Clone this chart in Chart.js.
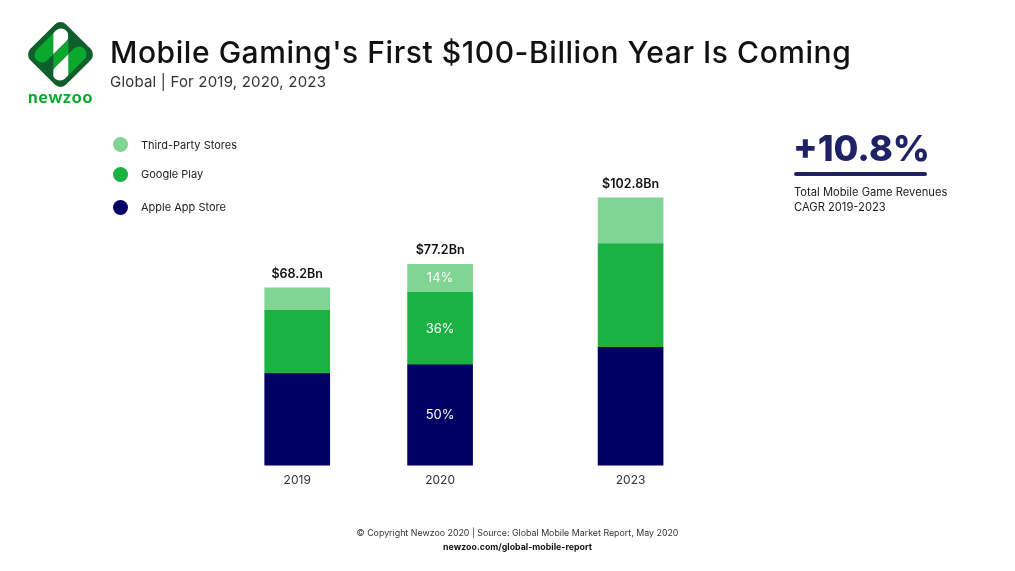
<!DOCTYPE html>
<html>
<head>
<meta charset="utf-8">
<title>Mobile Gaming's First $100-Billion Year Is Coming</title>
<script src="https://cdn.jsdelivr.net/npm/chart.js@4"></script>
<style>
  html, body { margin: 0; padding: 0; background: #fff; }
  #page { position: relative; width: 1015px; height: 571px; overflow: hidden; font-family: Inter, sans-serif; color: #222; }
  #page canvas { position: absolute; left: 0; top: 0; }
  .txt { position: absolute; white-space: nowrap; line-height: 1; }
  .dot { position: absolute; width: 15px; height: 15px; border-radius: 50%; }
</style>
</head>
<body>
<div id="page">
  <canvas id="myChart" width="1015" height="571"></canvas>

  <svg style="position:absolute;left:0;top:0" width="110" height="90" viewBox="0 0 110 90">
    <defs>
      <clipPath id="leftPart"><rect x="20" y="15" width="33.3" height="70"/></clipPath>
      <clipPath id="midPart"><rect x="53.3" y="15" width="15" height="70"/></clipPath>
      <clipPath id="rightPart"><rect x="68.3" y="15" width="30" height="70"/></clipPath>
    </defs>
    <rect x="35.2" y="29.2" width="50.6" height="50.6" rx="8" fill="#0f5f2d" transform="rotate(45 60.5 54.5)"/>
    <g stroke-width="15" stroke-linecap="round" fill="none">
      <line x1="42" y1="55" x2="61" y2="36" stroke="#0aa92e" clip-path="url(#leftPart)"/>
      <line x1="79" y1="54" x2="60" y2="73" stroke="#0aa92e" clip-path="url(#rightPart)"/>
      <polygon points="53.3,54.7 68.3,39.7 68.3,53.7 53.3,68.7" fill="#0aa92e" stroke="none"/>
      <line x1="42" y1="55" x2="61" y2="36" stroke="#fff" clip-path="url(#midPart)"/>
      <line x1="79" y1="54" x2="60" y2="73" stroke="#fff" clip-path="url(#midPart)"/>
    </g>
  </svg>
  <div class="txt" style="left:28px;top:86px;font:900 17px Lato,sans-serif;color:#0aa92e;letter-spacing:.9px">newzoo</div>

  <div class="txt" style="left:110px;top:37px;font-size:30px;font-weight:500;letter-spacing:.55px;color:#111;">Mobile Gaming's First $100-Billion Year Is Coming</div>
  <div class="txt" style="left:110px;top:74px;font-size:15px;letter-spacing:.2px;color:#333;">Global | For 2019, 2020, 2023</div>

  <div class="dot" style="left:113px;top:137px;background:#80d494"></div>
  <div class="txt" style="left:141px;top:140px;font-size:11px;">Third-Party Stores</div>
  <div class="dot" style="left:113px;top:167px;background:#1bb143"></div>
  <div class="txt" style="left:141px;top:169px;font-size:11px;">Google Play</div>
  <div class="dot" style="left:113px;top:200px;background:#000064"></div>
  <div class="txt" style="left:141px;top:202px;font-size:11px;">Apple App Store</div>

  <div class="txt" style="left:793px;top:130px;font-size:36px;font-weight:800;color:#1f2366;">+10.8%</div>
  <div style="position:absolute;left:794px;top:172px;width:133px;height:4px;border-radius:2px;background:#1f2366"></div>
  <div class="txt" style="left:794px;top:187px;font-size:11.2px;">Total Mobile Game Revenues</div>
  <div class="txt" style="left:794px;top:202px;font-size:11.2px;">CAGR 2019-2023</div>

  <div class="txt" style="left:0;width:1035px;text-align:center;top:529px;font-size:8.85px;color:#333;">© Copyright Newzoo 2020 | Source: Global Mobile Market Report, May 2020</div>
  <div class="txt" style="left:0;width:1035px;text-align:center;top:543px;font-size:8.8px;font-weight:700;color:#111;">newzoo.com/global-mobile-report</div>
</div>

<script>
  // blank categories keep the uneven gaps between the years
  var categories = ['2019', '', '', '2020', '', '', '', '2023'];

  // revenue in $Bn
  var appleStore = [35.2, null, null, 38.6, null, null, null, 45.3];
  var googlePlay = [24.3, null, null, 27.8, null, null, null, 39.8];
  var thirdParty = [8.7, null, null, 10.8, null, null, null, 17.7];

  var totalLabels = ['$68.2Bn', '', '', '$77.2Bn', '', '', '', '$102.8Bn'];
  var googleShare = ['', '', '', '36%', '', '', '', ''];
  var appleShare = ['', '', '', '50%', '', '', '', ''];
  var thirdShare = ['', '', '', '14%', '', '', '', ''];

  var shareLabels = [appleShare, googleShare, thirdShare];

  /**
   * totals above the stacks and the white shares inside them
   */
  var barLabels = {
    id: 'barLabels',
    afterDatasetsDraw: function (chart) {
      var ctx = chart.ctx;
      ctx.save();
      ctx.textAlign = 'center';
      ctx.textBaseline = 'middle';

      ctx.fillStyle = '#fff';
      ctx.font = '13px Inter, sans-serif';
      shareLabels.forEach(function (labels, d) {
        chart.getDatasetMeta(d).data.forEach(function (bar, i) {
          if (labels[i]) {
            ctx.fillText(labels[i], bar.x, (bar.y + bar.base) / 2);
          }
        });
      });

      ctx.fillStyle = '#111';
      ctx.font = '600 12.5px Inter, sans-serif';
      chart.getDatasetMeta(2).data.forEach(function (bar, i) {
        if (totalLabels[i]) {
          ctx.fillText(totalLabels[i], bar.x, bar.y - 14);
        }
      });
      ctx.restore();
    }
  };

  var canvas = document.getElementById('myChart');

  var myChart = new Chart(canvas.getContext('2d'), {
    type: 'bar',
    data: {
      labels: categories,
      datasets: [
        { label: 'Apple App Store', data: appleStore, backgroundColor: '#000064', clip: false },
        { label: 'Google Play', data: googlePlay, backgroundColor: '#1bb143', clip: false },
        { label: 'Third-Party Stores', data: thirdParty, backgroundColor: '#80d494', clip: false }
      ]
    },
    options: {
      responsive: false,
      animation: false,
      devicePixelRatio: 1,
      barThickness: 65,
      layout: { padding: { left: 273.4, right: 360.6, top: 153, bottom: 83.4 } },
      plugins: { legend: { display: false }, tooltip: { enabled: false } },
      scales: {
        x: {
          stacked: true,
          grid: { display: false },
          border: { display: false },
          ticks: {
            autoSkip: false,
            maxRotation: 0,
            padding: 0,
            color: '#333',
            font: { family: 'Inter, sans-serif', size: 12 }
          }
        },
        y: { stacked: true, display: false, min: 0, max: 120 }
      }
    },
    plugins: [barLabels]
  });
</script>
</body>
</html>
